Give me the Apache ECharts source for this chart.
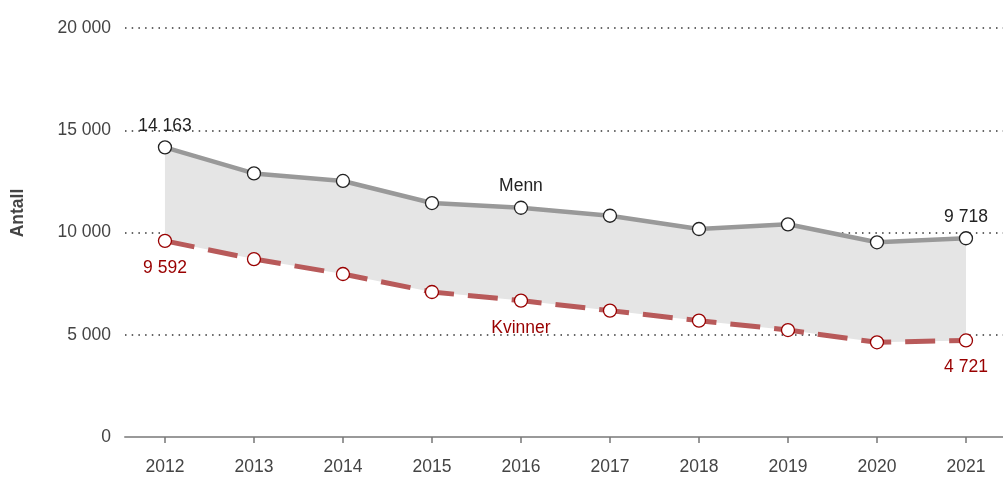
<!DOCTYPE html>
<html>
<head>
<meta charset="utf-8">
<script src="https://cdn.jsdelivr.net/npm/echarts@6/dist/echarts.min.js"></script>
<style>
  html, body { margin: 0; padding: 0; background: #fff; }
  #chart { width: 1003px; height: 477px; }
</style>
</head>
<body>
<div id="chart"></div>
<script>
// år
var years = [2012, 2013, 2014, 2015, 2016, 2017, 2018, 2019, 2020, 2021];
// antall menn
var menn = [14163, 12890, 12520, 11440, 11210, 10820, 10170, 10400, 9520, 9718];
// antall kvinner
var kvinner = [9592, 8700, 7970, 7090, 6670, 6180, 5690, 5230, 4630, 4721];
// y-akse
var yTicks = [0, 5000, 10000, 15000, 20000];

function fmt(v) {
  return String(v).replace(/\B(?=(\d{3})+(?!\d))/g, " ");
}

function pairs(arr) {
  var out = [];
  for (var i = 0; i < years.length; i++) {
    out.push([years[i], arr[i]]);
  }
  return out;
}

var labelIdx = [0, 4, 9];
var fontFam = "Liberation Sans, Arial, sans-serif";
var fs = 17.5;

var option = {
  animation: false,
  textStyle: { fontFamily: fontFam },
  grid: { left: 125, right: 0, top: 28, bottom: 40 },
  xAxis: {
    type: "value",
    min: 2011.551,
    max: 2021.416,
    splitLine: { show: false },
    axisLine: { show: true, lineStyle: { color: "#999", width: 2 } },
    axisTick: { show: true, customValues: years, length: 6, lineStyle: { color: "#777", width: 1.5 } },
    axisLabel: {
      customValues: years,
      formatter: function (v) { return String(v); },
      color: "#444",
      fontSize: fs,
      margin: 21,
      fontFamily: fontFam
    }
  },
  yAxis: {
    type: "value",
    min: yTicks[0],
    max: yTicks[yTicks.length - 1],
    interval: 5000,
    axisLine: { show: false },
    axisTick: { show: false },
    axisLabel: {
      formatter: fmt,
      color: "#444",
      fontSize: fs,
      margin: 14,
      fontFamily: fontFam
    },
    splitLine: {
      lineStyle: { color: "#666", width: 2, type: [1.5, 5.2] }
    }
  },
  graphic: [
    {
      type: "text",
      x: 18,
      y: 213,
      rotation: Math.PI / 2,
      style: {
        text: "Antall",
        fill: "#444",
        font: "bold " + fs + "px " + fontFam,
        align: "center",
        verticalAlign: "middle"
      }
    }
  ],
  series: [
    {
      // grått felt mellom kurvene
      name: "band",
      type: "custom",
      silent: true,
      z: 1,
      data: [[years[0], kvinner[0]]],
      renderItem: function (params, api) {
        var pts = [];
        for (var i = 0; i < years.length; i++) {
          pts.push(api.coord([years[i], menn[i]]));
        }
        for (var j = years.length - 1; j >= 0; j--) {
          pts.push(api.coord([years[j], kvinner[j]]));
        }
        return {
          type: "polygon",
          shape: { points: pts },
          style: { fill: "#e5e5e5" }
        };
      }
    },
    {
      name: "Menn",
      type: "line",
      data: pairs(menn),
      symbol: "circle",
      symbolSize: 13,
      lineStyle: { color: "#999", width: 4.5 },
      itemStyle: { color: "#fff", borderColor: "#222", borderWidth: 1.3 },
      label: {
        show: true,
        position: "top",
        distance: 5,
        color: "#222",
        fontSize: fs,
        fontFamily: fontFam,
        formatter: function (p) {
          if (labelIdx.indexOf(p.dataIndex) < 0) return "";
          if (p.dataIndex === 4) return "Menn";
          return fmt(p.value[1]);
        }
      },
      z: 3
    },
    {
      name: "Kvinner",
      type: "line",
      data: pairs(kvinner),
      symbol: "circle",
      symbolSize: 13,
      lineStyle: { color: "#b85a5a", width: 5, type: [30, 14] },
      itemStyle: { color: "#fff", borderColor: "#990000", borderWidth: 1.3 },
      label: {
        show: true,
        position: "bottom",
        distance: 11,
        color: "#990000",
        fontSize: fs,
        fontFamily: fontFam,
        formatter: function (p) {
          if (labelIdx.indexOf(p.dataIndex) < 0) return "";
          if (p.dataIndex === 4) return "Kvinner";
          return fmt(p.value[1]);
        }
      },
      z: 3
    }
  ]
};

var myChart = echarts.init(document.getElementById("chart"));
myChart.setOption(option);
</script>
</body>
</html>
